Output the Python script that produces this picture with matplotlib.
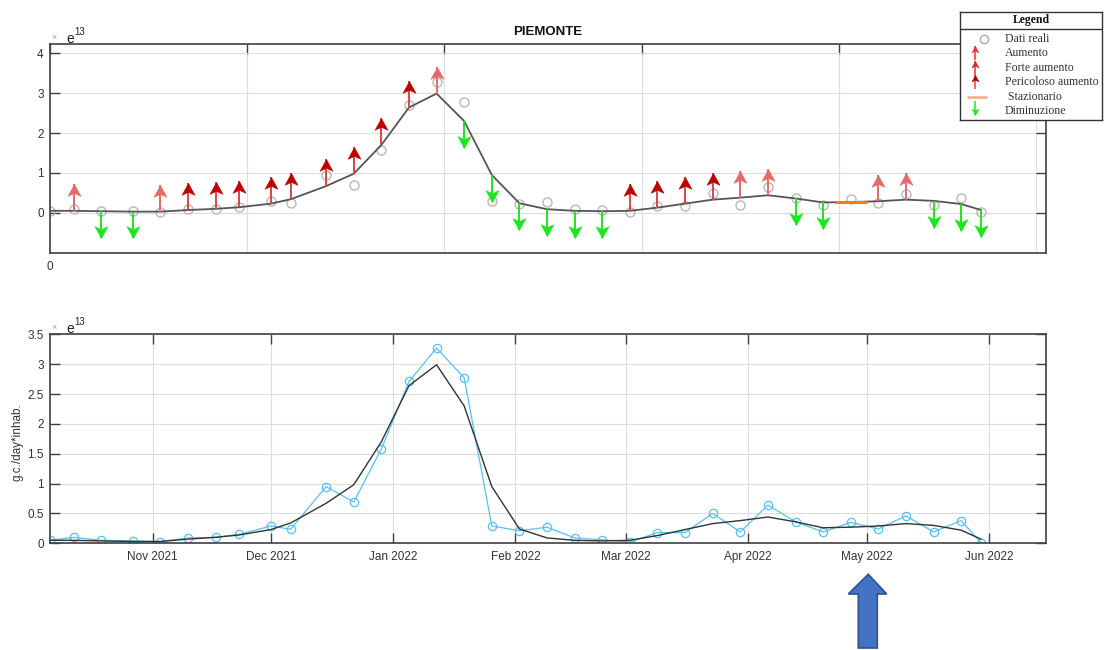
import matplotlib
matplotlib.use("Agg")
import matplotlib.pyplot as plt
from matplotlib.path import Path
from matplotlib.patches import Polygon
import pandas as pd

# ---------------------------------------------------------------- data
dates = pd.to_datetime([
    "2021-10-06", "2021-10-12", "2021-10-19", "2021-10-27", "2021-11-03",
    "2021-11-10", "2021-11-17", "2021-11-23", "2021-12-01", "2021-12-06",
    "2021-12-15", "2021-12-22", "2021-12-29", "2022-01-05", "2022-01-12",
    "2022-01-19", "2022-01-26", "2022-02-02", "2022-02-09", "2022-02-16",
    "2022-02-23", "2022-03-02", "2022-03-09", "2022-03-16", "2022-03-23",
    "2022-03-30", "2022-04-06", "2022-04-13", "2022-04-20", "2022-04-27",
    "2022-05-04", "2022-05-11", "2022-05-18", "2022-05-25", "2022-05-30",
])

# measured load (x 1e13 g.c./day*inhab.)
observed = [0.05, 0.10, 0.05, 0.04, 0.03, 0.09, 0.10, 0.15, 0.29, 0.235,
            0.95, 0.69, 1.58, 2.71, 3.27, 2.77, 0.29, 0.21, 0.27, 0.09,
            0.06, 0.02, 0.18, 0.18, 0.50, 0.19, 0.64, 0.36, 0.19, 0.35,
            0.24, 0.46, 0.19, 0.38, 0.01]

# smoothed trend
trend = [0.05, 0.05, 0.04, 0.03, 0.03, 0.07, 0.10, 0.14, 0.23, 0.34,
         0.67, 0.98, 1.70, 2.64, 2.99, 2.30, 0.95, 0.24, 0.09, 0.05,
         0.04, 0.05, 0.13, 0.23, 0.33, 0.38, 0.44, 0.36, 0.26, 0.27,
         0.29, 0.33, 0.30, 0.22, 0.07]

# A = Aumento, F = Forte aumento, P = Pericoloso aumento,
# S = Stazionario, D = Diminuzione, "" = no indication
trend_class = ["", "A", "D", "D", "A", "P", "P", "P", "P", "P",
               "P", "P", "P", "P", "A", "D", "D", "D", "D", "D",
               "D", "P", "P", "P", "P", "A", "A", "D", "D", "S",
               "A", "A", "D", "D", "D"]

month_ticks = pd.date_range("2021-11-01", "2022-06-01", freq="MS")
y_ticks_bottom = [0, 0.5, 1, 1.5, 2, 2.5, 3, 3.5]
y_ticks_top = [0, 1, 2, 3, 4]

legend_labels = ["Dati reali", "Aumento", "Forte aumento",
                 "Pericoloso aumento", " Stazionario", "Diminuzione"]

# ---------------------------------------------------------------- style
W, H = 1105, 650
SANS = "Liberation Sans"
SERIF = "Liberation Serif"
FRAME = "#404040"
GRID = "#DDDDDD"
TXT = "#333333"

C_AUM = "#E36A6A"
C_FORTE = "#E03434"
C_PER_HEAD = "#BE0000"
C_PER_SHAFT = "#DC4444"
C_DIM = "#1EE61E"
C_STAZ = "#F57A22"
ARROW_LEN = 0.67          # arrow length in data units of the top panel

plt.rcParams["font.family"] = [SANS, "DejaVu Sans"]


def fig_rect(left, top, right, bottom):
    return [left / W, 1 - bottom / H, (right - left) / W, (bottom - top) / H]


# arrow-head marker (tip at the origin, notched back)
_codes = [Path.MOVETO, Path.LINETO, Path.LINETO, Path.LINETO, Path.CLOSEPOLY]
HEAD_UP = Path([(0, 0), (-0.55, -1), (0, -0.75), (0.55, -1), (0, 0)], _codes)
HEAD_DOWN = Path([(0, 0), (-0.55, 1), (0, 0.75), (0.55, 1), (0, 0)], _codes)


def draw_arrow(ax, x, base, tip, shaft_color, head_color, head_ms=17, lw=1.4):
    ax.plot([x, x], [base, tip], color=shaft_color, lw=lw, zorder=4,
            solid_capstyle="butt")
    points_up = (tip > base) != ax.yaxis_inverted()
    head = HEAD_UP if points_up else HEAD_DOWN
    ax.plot([x], [tip], ls="none", marker=head, ms=head_ms,
            mfc=head_color, mec=head_color, mew=0.4, zorder=5)


def style_axes(ax):
    for sp in ax.spines.values():
        sp.set_color(FRAME)
        sp.set_linewidth(1.2)
    ax.grid(True, color=GRID, lw=0.8)
    ax.set_axisbelow(True)


fig = plt.figure(figsize=(W / 100, H / 100), dpi=100)

x_start = dates[0]
x_end = x_start + pd.Timedelta(days=252.5)

# ---------------------------------------------------------------- top panel
ax1 = fig.add_axes(fig_rect(50, 43.7, 1046, 252.7))
style_axes(ax1)
ax1.set_xlim(x_start, x_end)
ax1.set_ylim(-1, 4.24)
ax1.plot(dates, observed, ls="none", marker="o", ms=6.5, mfc="none",
         mec="#B8B8B8", mew=1.0, zorder=2)
ax1.plot(dates, trend, color="#555555", lw=1.3, zorder=3)

for d, t, c in zip(dates, trend, trend_class):
    if c == "A":
        draw_arrow(ax1, d, t, t + ARROW_LEN, C_AUM, C_AUM)
    elif c == "F":
        draw_arrow(ax1, d, t, t + ARROW_LEN, C_FORTE, C_FORTE)
    elif c == "P":
        draw_arrow(ax1, d, t, t + ARROW_LEN, C_PER_SHAFT, C_PER_HEAD)
    elif c == "D":
        draw_arrow(ax1, d, t, t - ARROW_LEN, C_DIM, C_DIM)
    elif c == "S":
        half = pd.Timedelta(days=4)
        ax1.plot([d - half, d + half], [t, t], color=C_STAZ, lw=2.2,
                 zorder=4, solid_capstyle="butt")

ax1.set_yticks(y_ticks_top)
ax1.set_yticklabels([str(v) for v in y_ticks_top])
top_xticks = [x_start + pd.Timedelta(days=50 * k) for k in range(6)]
ax1.set_xticks(top_xticks)
ax1.set_xticklabels(["0"] + [""] * (len(top_xticks) - 1))
ax1.tick_params(axis="both", direction="in", length=7, width=1.0,
                color=FRAME, labelcolor=TXT, labelsize=8.5)
ax1.tick_params(axis="x", top=True, bottom=False, pad=6)
ax1.tick_params(axis="y", right=True, pad=4.5)

fig.text(548 / W, 1 - 32 / H, "PIEMONTE", ha="center", va="center",
         fontsize=9.5, fontweight="bold", color="#111111")

# ---------------------------------------------------------------- bottom panel
ax2 = fig.add_axes(fig_rect(50, 334.3, 1046, 543.3))
style_axes(ax2)
ax2.plot(dates, observed, color="#56C1EE", lw=0.9, marker="o", ms=6,
         mfc="none", mec="#56C1EE", mew=0.9, zorder=2)
ax2.plot(dates, trend, color="#333333", lw=1.0, zorder=3)

ax2.set_xlim(x_start, x_end)
ax2.set_ylim(0, 3.5)
ax2.set_yticks(y_ticks_bottom)
ax2.set_yticklabels([f"{v:g}" for v in y_ticks_bottom])
ax2.set_xticks(month_ticks)
ax2.set_xticklabels([d.strftime("%b %Y") for d in month_ticks])
ax2.tick_params(axis="both", direction="in", length=7, width=1.0,
                color=FRAME, labelcolor=TXT, labelsize=8.5)
ax2.tick_params(axis="x", top=True, pad=5.5)
ax2.tick_params(axis="y", right=True, pad=4.5)

fig.text(18 / W, 1 - 442 / H, "g.c./day*inhab.", rotation=90,
         ha="center", va="center", fontsize=8.5, color=TXT)

# exponent labels
for y_e in (38, 328):
    fig.text(54 / W, 1 - y_e / H, "\u00d7", ha="center", va="center",
             fontsize=6.5, color="#9A9A9A")
    fig.text(66 / W, 1 - (y_e + 1) / H, "e", ha="left", va="center",
             fontsize=10, color="#222222")
    fig.text(74.5 / W, 1 - (y_e - 6) / H, "13", ha="left", va="center",
             fontsize=7, color="#222222")

# ---------------------------------------------------------------- legend box
leg = fig.add_axes(fig_rect(960, 11.5, 1102, 119.7))
leg.set_xlim(0, 142)
leg.set_ylim(108.2, 0)
leg.set_xticks([])
leg.set_yticks([])
leg.set_facecolor("white")
for sp in leg.spines.values():
    sp.set_color("#333333")
    sp.set_linewidth(1.0)
leg.text(71, 9, "Legend", ha="center", va="center", fontsize=8.5,
         fontweight="bold", family=SERIF, color="#111111")
leg.plot([0, 142], [17.5, 17.5], color="#333333", lw=1.0)

row_y = [28, 41.5, 56.5, 70.5, 85.5, 100]
for lab, ry in zip(legend_labels, row_y):
    leg.text(45, ry, lab, ha="left", va="center", fontsize=8.5,
             family=SERIF, color=TXT)

leg.plot([24], [row_y[0]], ls="none", marker="o", ms=6, mfc="none",
         mec="#A8A8A8", mew=1.0)
draw_arrow(leg, 15, row_y[1] + 7, row_y[1] - 7, C_FORTE, "#E23A3A",
           head_ms=9, lw=1.1)
draw_arrow(leg, 15, row_y[2] + 7, row_y[2] - 7, C_FORTE, "#D82828",
           head_ms=9, lw=1.1)
draw_arrow(leg, 15, row_y[3] + 7, row_y[3] - 7, C_PER_SHAFT, "#B00000",
           head_ms=9, lw=1.1)
leg.plot([7, 27], [row_y[4], row_y[4]], color="#F8A68A", lw=1.8,
         solid_capstyle="butt")
draw_arrow(leg, 15, row_y[5] - 10, row_y[5] + 4, C_DIM, C_DIM,
           head_ms=9, lw=1.1)

# ---------------------------------------------------------------- pointer arrow
pts = [(858.3, 648), (858.3, 594), (848.3, 594), (868.3, 574.3),
       (886.7, 594), (877.3, 594), (877.3, 648)]
fig.add_artist(Polygon([(px / W, 1 - py / H) for px, py in pts], closed=True,
                       transform=fig.transFigure, facecolor="#4472C4",
                       edgecolor="#2F528F", lw=1.2))

fig.savefig("out.png", dpi=100)
